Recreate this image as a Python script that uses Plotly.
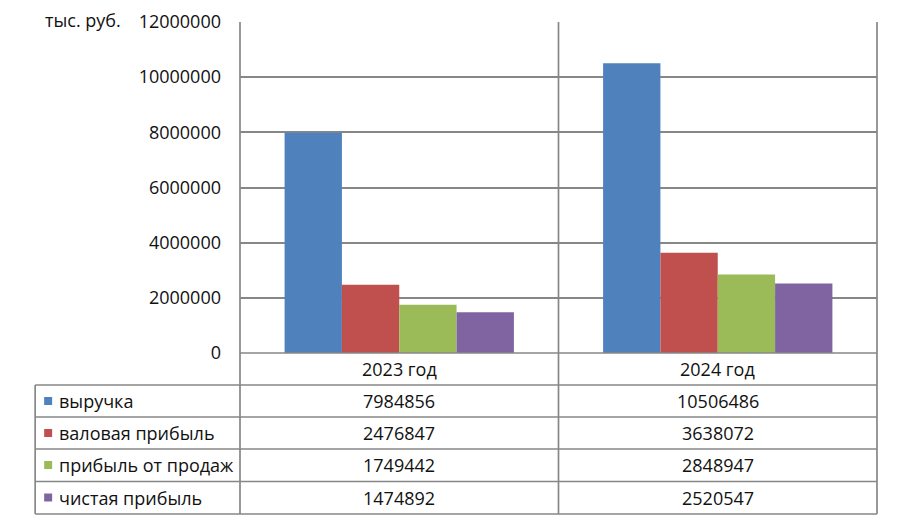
import plotly.graph_objects as go

categories = ["2023 год", "2024 год"]
series_names = ["выручка", "валовая прибыль", "прибыль от продаж", "чистая прибыль"]
revenue = [7984856, 10506486]
gross_profit = [2476847, 3638072]
sales_profit = [1749442, 2848947]
net_profit = [1474892, 2520547]
colors = ["#4F81BD", "#C0504D", "#9BBB59", "#8064A2"]
y_ticks = [0, 2000000, 4000000, 6000000, 8000000, 10000000, 12000000]
unit_label = "тыс. руб."

series_values = [revenue, gross_profit, sales_profit, net_profit]

OFF = 8  # page body margin
W, H = 900 - OFF, 525 - OFF
L, R, T, B = 240 - OFF, 877.5 - OFF, 22 - OFF, 353 - OFF
ml, mr, mt, mb = L, W - R, T, H - B
pw, ph = R - L, B - T

def px_x(x):
    return (x - OFF - L) / pw

def px_y(y):
    return (B - (y - OFF)) / ph

FONT = "Open Sans"
FS = 18
GRID = "#878787"
TXT = "#111111"

fig = go.Figure()
for name, vals, col in zip(series_names, series_values, colors):
    fig.add_trace(go.Bar(x=categories, y=vals, name=name, marker=dict(color=col, line=dict(width=0)),
                         showlegend=False))

shapes = []
annotations = []

table_bottom = 514
row_lines = [385, 417, 449, 481.5, 514]
table_left = 35
for xp in [240, (240 + 877.5) / 2, 877.5]:
    shapes.append(dict(type="line", xref="paper", yref="paper", x0=px_x(xp), x1=px_x(xp),
                       y0=1, y1=px_y(table_bottom), line=dict(color=GRID, width=1.7), layer="above"))
shapes.append(dict(type="line", xref="paper", yref="paper", x0=0, x1=1, y0=0, y1=0,
                   line=dict(color=GRID, width=1.7), layer="above"))
for yp in row_lines:
    shapes.append(dict(type="line", xref="paper", yref="paper", x0=px_x(table_left), x1=1,
                       y0=px_y(yp), y1=px_y(yp), line=dict(color=GRID, width=1.7), layer="above"))
shapes.append(dict(type="line", xref="paper", yref="paper", x0=px_x(table_left), x1=px_x(table_left),
                   y0=px_y(row_lines[0]), y1=px_y(table_bottom), line=dict(color=GRID, width=1.7), layer="above"))

for c in categories:
    annotations.append(dict(x=c, xref="x", y=px_y(369), yref="paper", text=c, showarrow=False,
                            font=dict(family=FONT, size=FS, color=TXT), xanchor="center", yanchor="middle"))

row_centers = [401, 433, 465, 497.5]
for name, vals, col, yc in zip(series_names, series_values, colors, row_centers):
    shapes.append(dict(type="rect", xref="paper", yref="paper", x0=px_x(44), x1=px_x(52),
                       y0=px_y(yc + 4), y1=px_y(yc - 4), fillcolor=col, line=dict(width=0)))
    annotations.append(dict(x=px_x(57), xref="paper", y=px_y(yc), yref="paper", text=name, showarrow=False,
                            font=dict(family=FONT, size=FS, color=TXT), xanchor="left", yanchor="middle"))
    for c, v in zip(categories, vals):
        annotations.append(dict(x=c, xref="x", y=px_y(yc), yref="paper", text=str(v), showarrow=False,
                                font=dict(family=FONT, size=FS, color=TXT), xanchor="center", yanchor="middle"))

annotations.append(dict(x=px_x(123), xref="paper", y=px_y(20), yref="paper", text=unit_label, showarrow=False,
                        font=dict(family=FONT, size=FS, color=TXT), xanchor="right", yanchor="middle"))

fig.update_layout(
    width=W, height=H,
    margin=dict(l=ml, r=mr, t=mt, b=mb, pad=0, autoexpand=False),
    paper_bgcolor="white", plot_bgcolor="white",
    barmode="group", bargap=0.28, bargroupgap=0,
    shapes=shapes, annotations=annotations,
    showlegend=False,
    xaxis=dict(showticklabels=False, showgrid=False, zeroline=False, showline=False, ticks="",
               automargin=False),
    yaxis=dict(range=[0, 12000000], tickvals=y_ticks, ticktext=[str(v) for v in y_ticks],
               showgrid=True, gridcolor=GRID, gridwidth=1.7, zeroline=False, showline=False,
               ticks="", ticklabelstandoff=18, automargin=False,
               tickfont=dict(family=FONT, size=FS, color=TXT)),
)

fig.write_html("out.html")
